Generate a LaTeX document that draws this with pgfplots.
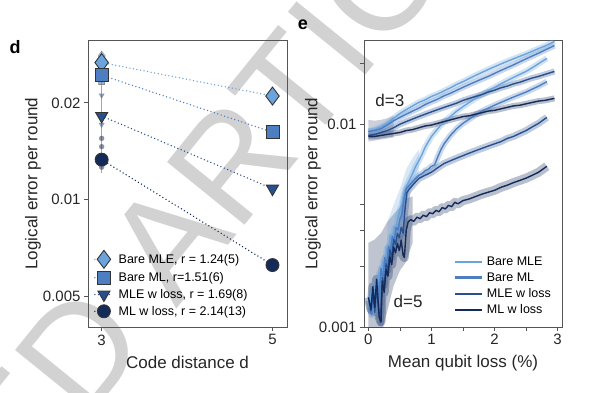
\documentclass[border=0pt]{standalone}
\usepackage{fontspec}
\setmainfont{Liberation Sans}
\usepackage{pgfplots}
\usepackage{pgfplotstable}
\pgfplotsset{compat=1.18}
\definecolor{cA}{HTML}{6BA3DC}
\definecolor{cB}{HTML}{4E7EC2}
\definecolor{cC}{HTML}{28508F}
\definecolor{cD}{HTML}{142A58}
\definecolor{axc}{HTML}{555555}
\definecolor{wm}{HTML}{D2D2D2}
\pgfplotsset{
  every axis/.append style={
    scale only axis,
    axis line style={axc, line width=0.8pt},
    tick style={axc, line width=0.8pt},
    tick align=outside, tick pos=left,
    major tick length=4pt, minor tick length=4pt,
    tick label style={font=\fontsize{15}{15}\selectfont, text=black!85},
    label style={font=\fontsize{17}{17}\selectfont, text=black!85},
  }
}
\pgfplotstableread{
x a b c d
0.00 0.0092 0.0092 0.0088 0.0087
0.10 0.0094 0.0093 0.0089 0.0087
0.20 0.0097 0.0095 0.0091 0.0088
0.30 0.0101 0.0099 0.0093 0.0089
0.40 0.0107 0.0104 0.0096 0.0090
0.50 0.0113 0.0108 0.0100 0.0091
0.60 0.0118 0.0112 0.0103 0.0093
0.70 0.0123 0.0116 0.0106 0.0094
0.80 0.0128 0.0120 0.0109 0.0096
0.90 0.0132 0.0125 0.0112 0.0098
1.00 0.0137 0.0129 0.0115 0.0099
1.10 0.0141 0.0133 0.0118 0.0101
1.20 0.0146 0.0138 0.0121 0.0103
1.30 0.0151 0.0142 0.0124 0.0105
1.40 0.0157 0.0147 0.0127 0.0107
1.50 0.0162 0.0152 0.0131 0.0109
1.60 0.0168 0.0157 0.0134 0.0110
1.70 0.0174 0.0162 0.0137 0.0112
1.80 0.0180 0.0167 0.0140 0.0114
1.90 0.0186 0.0172 0.0144 0.0116
2.00 0.0192 0.0178 0.0147 0.0117
2.10 0.0198 0.0184 0.0151 0.0119
2.20 0.0204 0.0190 0.0154 0.0121
2.30 0.0210 0.0196 0.0158 0.0123
2.40 0.0216 0.0203 0.0161 0.0124
2.50 0.0222 0.0210 0.0165 0.0126
2.60 0.0229 0.0217 0.0169 0.0128
2.70 0.0236 0.0224 0.0172 0.0130
2.80 0.0243 0.0232 0.0176 0.0131
2.90 0.0251 0.0240 0.0180 0.0133
2.95 0.0256 0.0244 0.0182 0.0134
}\dthree
\pgfplotstableread{
x y
0.02 0.00125
0.05 0.00150
0.08 0.00118
0.11 0.00165
0.14 0.00135
0.17 0.00185
0.20 0.00160
0.23 0.00210
0.26 0.00190
0.29 0.00245
0.32 0.00225
0.35 0.00280
0.38 0.00260
0.41 0.00310
0.44 0.00300
0.47 0.00350
0.50 0.00380
0.53 0.00400
0.56 0.00450
0.60 0.00490
0.65 0.00530
0.70 0.00570
0.75 0.00620
0.80 0.00660
0.85 0.00710
0.90 0.00770
0.95 0.00820
1.00 0.00870
1.05 0.00910
1.10 0.00950
1.20 0.01030
1.30 0.01090
1.40 0.01160
1.50 0.01220
1.60 0.01280
1.70 0.01340
1.80 0.01400
1.90 0.01460
2.00 0.01520
2.10 0.01580
2.20 0.01640
2.30 0.01700
2.40 0.01760
2.50 0.01820
2.60 0.01900
2.70 0.01990
2.83 0.02110
}\fiveA
\pgfplotstableread{
x y
0.02 0.00130
0.05 0.00115
0.08 0.00155
0.11 0.00125
0.14 0.00170
0.17 0.00140
0.20 0.00195
0.23 0.00170
0.26 0.00220
0.29 0.00200
0.32 0.00250
0.35 0.00235
0.38 0.00280
0.41 0.00265
0.44 0.00310
0.47 0.00300
0.50 0.00340
0.53 0.00360
0.56 0.00420
0.60 0.00480
0.65 0.00500
0.70 0.00520
0.75 0.00540
0.80 0.00560
0.85 0.00570
0.90 0.00590
0.95 0.00600
1.00 0.00620
1.05 0.00630
1.10 0.00690
1.15 0.00750
1.20 0.00800
1.30 0.00880
1.40 0.00950
1.50 0.01010
1.60 0.01060
1.70 0.01110
1.80 0.01160
1.90 0.01200
2.00 0.01240
2.10 0.01280
2.20 0.01320
2.30 0.01360
2.40 0.01400
2.50 0.01440
2.60 0.01490
2.70 0.01540
2.83 0.01620
}\fiveB
\pgfplotstableread{
x y
0.01 0.00135
0.04 0.00120
0.07 0.00150
0.10 0.00118
0.13 0.00160
0.16 0.00125
0.19 0.00105
0.22 0.00175
0.25 0.00160
0.28 0.00205
0.31 0.00190
0.34 0.00240
0.37 0.00220
0.40 0.00270
0.43 0.00255
0.46 0.00290
0.49 0.00275
0.52 0.00310
0.55 0.00290
0.58 0.00380
0.61 0.00460
0.65 0.00480
0.70 0.00500
0.75 0.00520
0.80 0.00540
0.85 0.00550
0.90 0.00560
0.95 0.00570
1.00 0.00580
1.10 0.00610
1.20 0.00640
1.30 0.00660
1.40 0.00680
1.50 0.00700
1.60 0.00720
1.70 0.00740
1.80 0.00760
1.90 0.00780
2.00 0.00800
2.10 0.00820
2.20 0.00850
2.30 0.00870
2.40 0.00900
2.50 0.00930
2.60 0.00970
2.70 0.01010
2.83 0.01080
}\fiveC
\pgfplotstableread{
x y
0.00 0.00140
0.04 0.00122
0.07 0.00158
0.10 0.00125
0.13 0.00172
0.17 0.00112
0.20 0.00106
0.22 0.00168
0.25 0.00148
0.28 0.00192
0.31 0.00178
0.34 0.00222
0.37 0.00203
0.40 0.00248
0.43 0.00232
0.46 0.00258
0.49 0.00238
0.52 0.00268
0.55 0.00226
0.57 0.00220
0.60 0.00300
0.63 0.00330
0.67 0.00338
0.72 0.00332
0.77 0.00348
0.82 0.00342
0.87 0.00356
0.92 0.00350
0.97 0.00366
1.02 0.00362
1.07 0.00376
1.12 0.00370
1.17 0.00388
1.22 0.00382
1.27 0.00398
1.32 0.00392
1.37 0.00412
1.42 0.00405
1.50 0.00420
1.60 0.00428
1.70 0.00440
1.80 0.00452
1.90 0.00462
2.00 0.00472
2.10 0.00488
2.20 0.00500
2.30 0.00515
2.40 0.00528
2.50 0.00542
2.60 0.00560
2.70 0.00580
2.83 0.00620
}\fiveD
\begin{document}
\begin{tikzpicture}[x=1pt,y=1pt]
\path[use as bounding box] (0,0) rectangle (591,393);
% watermark
\node[rotate=51, text=wm, font=\fontsize{145}{145}\selectfont, inner sep=0pt] (art) at (330,352) {ARTICLE};
\node[rotate=51, text=wm, font=\fontsize{145}{145}\selectfont, inner sep=0pt, anchor=east] at ([shift={(-25pt,-31pt)}]art.west) {ACCELERATED};
% panel labels
\node[font=\fontsize{18}{18}\selectfont\bfseries] at (15,346) {d};
\node[font=\fontsize{18}{18}\selectfont\bfseries] at (303,368) {e};

% ---------------- panel d ----------------
\begin{axis}[ymode=log, at={(88pt,66pt)}, anchor=south west, width=199pt, height=287pt,
  xmin=2.84, xmax=5.17, ymin=0.004, ymax=0.0314,
  xtick={3,5}, xticklabels={3,5}, ytick={0.005,0.01,0.02}, yticklabels={0.005,0.01,0.02},
  yminorticks=false,
  xlabel={Code distance d}, ylabel={Logical error per round},
  xlabel style={at={(axis description cs:0.5,-0.125)}, anchor=center},
  ylabel style={at={(axis description cs:-0.277,0.5)}, anchor=center},
  legend style={at={(axis description cs:0.03,0.268)}, anchor=north west, draw=none, fill=none,
    font=\fontsize{12.5}{12.5}\selectfont, row sep=2.2pt, inner sep=0pt,
    /tikz/every odd column/.append style={column sep=3pt}},
  legend cell align=left,
  legend image code/.code={\draw[#1, mark repeat=2, mark phase=2] plot coordinates {(0pt,0pt) (9pt,0pt) (18pt,0pt)};},
]
\addplot[forget plot, gray!70, line width=1.5pt] coordinates {(3,0.0121) (3,0.0290)};
\addplot[forget plot, only marks, mark=diamond*, mark size=5pt, mark options={fill=cA, fill opacity=0.6, draw=gray, draw opacity=0.7}] coordinates {(3,0.0280) (3,0.0272)};
\addplot[forget plot, only marks, mark=square*, mark size=3pt, mark options={fill=cB, fill opacity=0.6, draw=gray, draw opacity=0.7}] coordinates {(3,0.0251) (3,0.0233)};
\addplot[forget plot, only marks, mark=triangle*, mark size=3pt, mark options={rotate=180, fill=cC, fill opacity=0.5, draw=gray, draw opacity=0.7}] coordinates {(3,0.0211) (3,0.0171)};
\addplot[forget plot, only marks, mark=*, mark size=2.5pt, mark options={fill=cD, fill opacity=0.5, draw=gray, draw opacity=0.7}] coordinates {(3,0.0155) (3,0.0146) (3,0.0126)};
\addplot[cA, line width=1.5pt, dash pattern=on 0pt off 3.6pt, line cap=round,
  mark=diamond*, mark size=9pt, mark options={solid, fill=cA, draw=black!80, line width=0.9pt}]
  coordinates {(3,0.0267) (5,0.0210)};
\addlegendentry{Bare MLE, r = 1.24(5)}
\addplot[cB, line width=1.5pt, dash pattern=on 0pt off 3.6pt, line cap=round,
  mark=square*, mark size=6.5pt, mark options={solid, fill=cB, draw=black!80, line width=0.9pt}]
  coordinates {(3,0.0244) (5,0.0162)};
\addlegendentry{Bare ML, r=1.51(6)}
\addplot[cC, line width=1.5pt, dash pattern=on 0pt off 3.6pt, line cap=round,
  mark=triangle*, mark size=7pt, mark options={solid, rotate=180, fill=cC, draw=black!80, line width=0.9pt}]
  coordinates {(3,0.0182) (5,0.0108)};
\addlegendentry{MLE w loss, r = 1.69(8)}
\addplot[cD, line width=1.5pt, dash pattern=on 0pt off 3.6pt, line cap=round,
  mark=*, mark size=6.5pt, mark options={solid, fill=cD, draw=black!80, line width=0.9pt}]
  coordinates {(3,0.0133) (5,0.00624)};
\addlegendentry{ML w loss, r = 2.14(13)}
\end{axis}

% ---------------- panel e ----------------
\begin{axis}[ymode=log, at={(364pt,66pt)}, anchor=south west, width=198pt, height=287pt,
  xmin=-0.07, xmax=3.07, ymin=0.001, ymax=0.026,
  xtick={0,1,2,3}, xticklabels={0,1,2,3}, minor xtick={0.5,1.5,2.5},
  ytick={0.001,0.01}, yticklabels={0.001,0.01},
  yminorticks=false,
  extra y ticks={0.002,0.003,0.004,0.02}, extra y tick labels={},
  xlabel={Mean qubit loss (\%)}, ylabel={Logical error per round},
  xlabel style={at={(axis description cs:0.5,-0.125)}, anchor=center},
  ylabel style={at={(axis description cs:-0.258,0.5)}, anchor=center},
  legend style={at={(axis description cs:0.452,0.253)}, anchor=north west, draw=none, fill=none,
    font=\fontsize{12.5}{12.5}\selectfont, row sep=1.8pt, inner sep=0pt,
    /tikz/every odd column/.append style={column sep=2pt}},
  legend cell align=left,
  every axis plot/.append style={line join=round},
]
\addplot[forget plot, fill=cD, fill opacity=0.28, draw=none] coordinates {
(0,0.0026) (0.1,0.0027) (0.2,0.0029) (0.3,0.0033) (0.4,0.0036) (0.5,0.0039) (0.6,0.0043) (0.7,0.0044)
(0.7,0.0026) (0.6,0.0021) (0.5,0.0019) (0.4,0.0016) (0.3,0.0012) (0.2,0.0009) (0.1,0.0009) (0,0.0009)};
\addplot[forget plot, fill=cA, fill opacity=0.25, draw=none] coordinates {
(0.3,0.0033) (0.4,0.0040) (0.5,0.0048) (0.6,0.0060) (0.7,0.0068) (0.8,0.0075)
(0.8,0.0058) (0.7,0.0049) (0.6,0.0041) (0.5,0.0032) (0.4,0.0026) (0.3,0.0021)};
\addplot[forget plot, fill=cD, fill opacity=0.22, draw=none] coordinates {
(0,0.0105) (0.1,0.0104) (0.2,0.0105) (0.3,0.0107) (0.4,0.0110)
(0.4,0.0086) (0.3,0.0085) (0.2,0.0084) (0.1,0.0083) (0,0.0082)};

\addplot[forget plot, cD, opacity=0.3, line width=9pt] table[x=x,y=y] {\fiveD};
\addplot[forget plot, cC, opacity=0.3, line width=7pt] table[x=x,y=y] {\fiveC};
\addplot[forget plot, cB, opacity=0.3, line width=6pt] table[x=x,y=y] {\fiveB};
\addplot[forget plot, cA, opacity=0.3, line width=6pt] table[x=x,y=y] {\fiveA};
\addplot[forget plot, cD, opacity=0.3, line width=6pt] table[x=x,y=d] {\dthree};
\addplot[forget plot, cC, opacity=0.3, line width=6pt] table[x=x,y=c] {\dthree};
\addplot[forget plot, cB, opacity=0.3, line width=6pt] table[x=x,y=b] {\dthree};
\addplot[forget plot, cA, opacity=0.3, line width=6pt] table[x=x,y=a] {\dthree};

\addplot[forget plot, cA, line width=1.4pt] table[x=x,y=y] {\fiveA};
\addplot[forget plot, cB, line width=1.4pt] table[x=x,y=y] {\fiveB};
\addplot[forget plot, cC, line width=1.4pt] table[x=x,y=y] {\fiveC};
\addplot[forget plot, cD, line width=1.4pt] table[x=x,y=y] {\fiveD};
\addplot[forget plot, cA, line width=1.4pt] table[x=x,y=a] {\dthree};
\addplot[forget plot, cB, line width=1.4pt] table[x=x,y=b] {\dthree};
\addplot[forget plot, cC, line width=1.4pt] table[x=x,y=c] {\dthree};
\addplot[forget plot, cD, line width=1.4pt] table[x=x,y=d] {\dthree};

\addlegendimage{legend image code/.code={\draw[cA, line width=2.2pt] (0pt,0pt) -- (27pt,0pt);}}
\addlegendentry{Bare MLE}
\addlegendimage{legend image code/.code={\draw[cB, line width=2.2pt] (0pt,0pt) -- (27pt,0pt);}}
\addlegendentry{Bare ML}
\addlegendimage{legend image code/.code={\draw[cC, line width=2.2pt] (0pt,0pt) -- (27pt,0pt);}}
\addlegendentry{MLE w loss}
\addlegendimage{legend image code/.code={\draw[cD, line width=2.2pt] (0pt,0pt) -- (27pt,0pt);}}
\addlegendentry{ML w loss}

\node[font=\fontsize{17}{17}\selectfont, text=black!85] at (axis cs:0.34,0.0131) {d=3};
\node[font=\fontsize{17}{17}\selectfont, text=black!85] at (axis cs:0.63,0.00133) {d=5};
\end{axis}
\end{tikzpicture}
\end{document}
